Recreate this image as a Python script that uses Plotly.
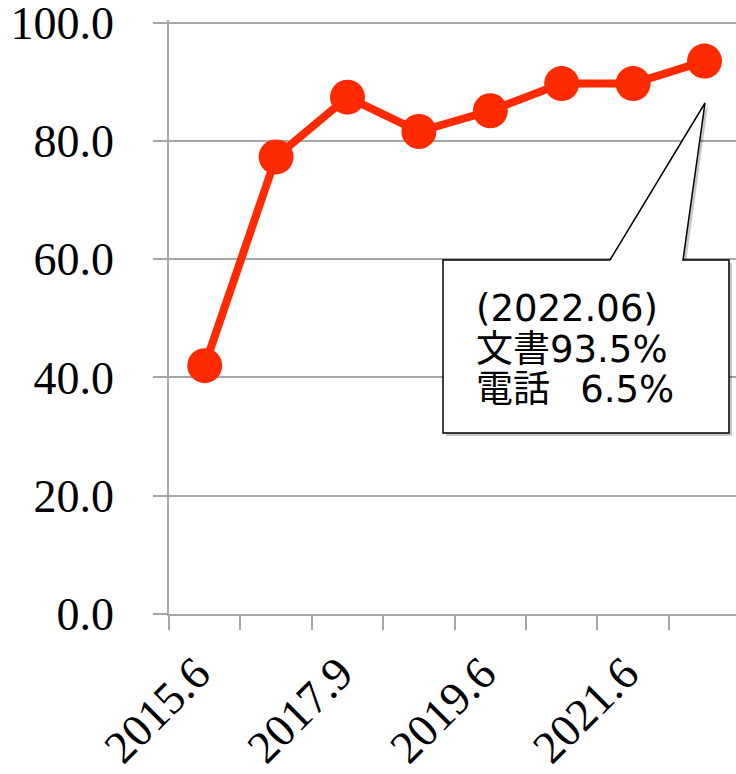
import plotly.graph_objects as go

# Survey points and the share answered in writing (%)
categories = ["2015.6", "2016.9", "2017.9", "2018.9", "2019.6", "2020.6", "2021.6", "2022.6"]
written_share = [42.0, 77.3, 87.4, 81.6, 85.1, 89.7, 89.7, 93.5]
tick_labels = ["2015.6", "", "2017.9", "", "2019.6", "", "2021.6", ""]
y_ticks = [0, 20, 40, 60, 80, 100]

W, H = 736, 774
ML, MR, MT, MB = 169, 0, 20, 160
PW, PH = W - ML - MR, H - MT - MB
CAT_PX = 71.4
Y_TOP = 100.45
RED = "#ff2a00"
GRID = "#a6a6a6"


def px(x):
    return (x - ML) / PW


def py(y):
    return (H - MB - y) / PH


fig = go.Figure()
fig.add_trace(go.Scatter(
    x=categories, y=written_share, mode="lines+markers",
    line=dict(color=RED, width=8),
    marker=dict(color=RED, size=35),
    showlegend=False, hoverinfo="skip",
))

# Callout box with pointer towards the latest point
pts = [(443, 260), (610, 260), (705, 103), (683, 260), (729, 260), (729, 433), (443, 433)]


def path(points, dx=0, dy=0):
    s = "M " + " L ".join(f"{px(x + dx):.5f},{py(y + dy):.5f}" for x, y in points)
    return s + " Z"


fig.add_shape(type="path", xref="paper", yref="paper", path=path(pts, 3, 3),
              fillcolor="rgba(0,0,0,0.22)", line=dict(width=0))
fig.add_shape(type="path", xref="paper", yref="paper", path=path(pts),
              fillcolor="white", line=dict(color="black", width=1.5))

latest = written_share[-1]
callout_lines = [
    "(2022.06)",
    f"文書{latest:.1f}%",
    f"電話 \u2002{100 - latest:.1f}%",
]
line_centres = [309, 349, 389]
for txt, yc in zip(callout_lines, line_centres):
    fig.add_annotation(
        xref="paper", yref="paper", x=px(474), y=py(yc),
        xanchor="left", yanchor="middle", align="left", showarrow=False,
        text=txt,
        font=dict(family="DejaVu Sans, Noto Sans CJK JP", size=37, color="black"),
    )

fig.update_layout(
    width=W, height=H,
    margin=dict(l=ML, r=MR, t=MT, b=MB),
    paper_bgcolor="white", plot_bgcolor="white",
    font=dict(family="Liberation Serif", size=46, color="black"),
)
fig.update_xaxes(
    type="category", range=[-0.5, -0.5 + PW / CAT_PX],
    tickmode="array", tickvals=categories,
    ticktext=[t + "\u00a0" if t else t for t in tick_labels],
    tickson="boundaries", ticks="outside", ticklen=14, tickwidth=1.5, tickcolor=GRID,
    tickangle=-45, ticklabelstandoff=4, automargin=False,
    showgrid=False, showline=True, linecolor=GRID, linewidth=1.5,
    zeroline=False,
)
fig.update_yaxes(
    range=[0, Y_TOP], tickmode="array", tickvals=y_ticks,
    ticktext=[f"{v:.1f}" for v in y_ticks],
    ticks="outside", ticklen=14, tickwidth=1.5, tickcolor=GRID,
    ticklabelstandoff=30, ticklabeloverflow="allow", automargin=False,
    showgrid=True, gridcolor=GRID, gridwidth=1.5,
    showline=True, linecolor=GRID, linewidth=1.5, zeroline=False,
)

fig.write_html("out.html")
